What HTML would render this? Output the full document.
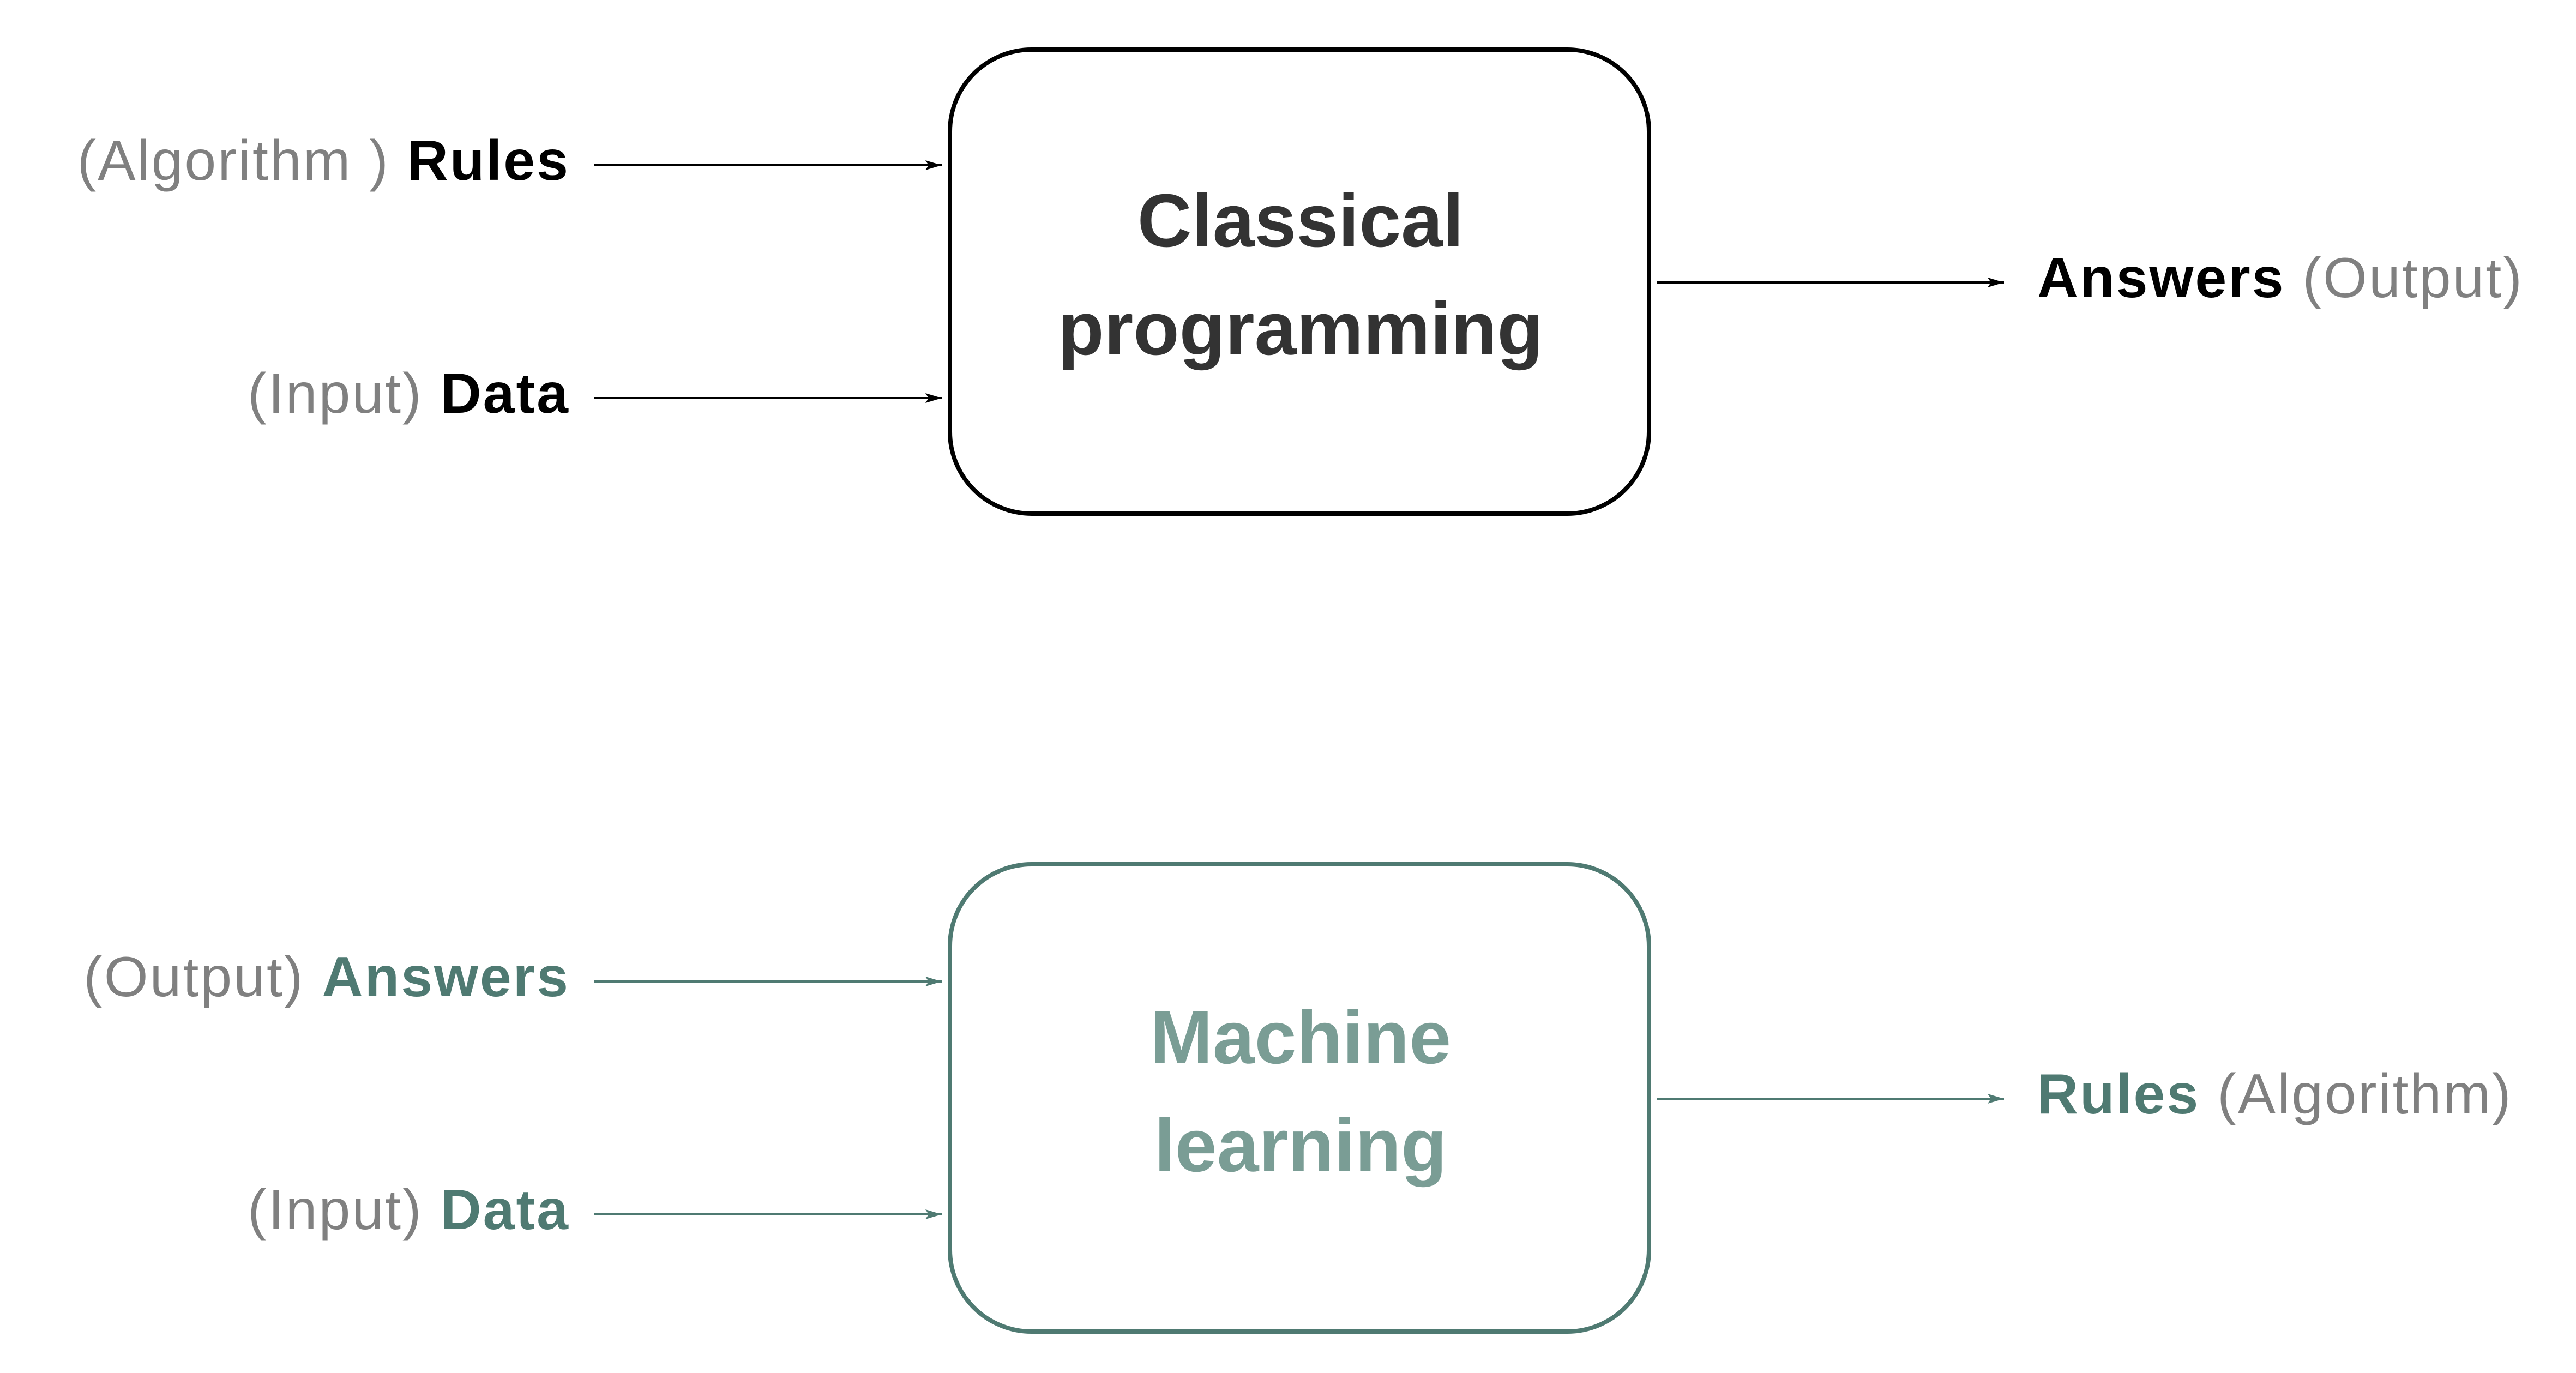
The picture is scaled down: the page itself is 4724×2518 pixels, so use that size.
<!DOCTYPE html>
<html><head><meta charset="utf-8"><style>
html,body{margin:0;padding:0;background:#fff}
svg{display:block}
text{font-family:"Liberation Sans","DejaVu Sans",sans-serif}
</style></head><body>
<svg width="4724" height="2518" viewBox="0 0 4724 2518" xmlns="http://www.w3.org/2000/svg">
<defs>
<marker id="ab" markerWidth="30" markerHeight="18" refX="30" refY="9" orient="auto" markerUnits="userSpaceOnUse" viewBox="0 0 30 18"><path d="M0,0 L30,9 L0,18 L6,9 Z" fill="#000"/></marker>
<marker id="at" markerWidth="30" markerHeight="18" refX="30" refY="9" orient="auto" markerUnits="userSpaceOnUse" viewBox="0 0 30 18"><path d="M0,0 L30,9 L0,18 L6,9 Z" fill="#4f7a72"/></marker>
</defs>
<style>
.g{fill:#808080}
.l{font-size:104px;letter-spacing:3px}
.t{font-size:138px;font-weight:bold}
</style>
<!-- top box -->
<rect x="1742" y="91" width="1282" height="851" rx="150" ry="150" fill="none" stroke="#000" stroke-width="8"/>
<text x="2385" y="452" class="t" fill="#333" text-anchor="middle">Classical</text>
<text x="2385" y="650" class="t" fill="#333" text-anchor="middle">programming</text>
<g stroke="#000" stroke-width="4">
<line x1="1090" y1="303" x2="1727" y2="303" marker-end="url(#ab)"/>
<line x1="1090" y1="730" x2="1727" y2="730" marker-end="url(#ab)"/>
<line x1="3039" y1="518" x2="3675" y2="518" marker-end="url(#ab)"/>
</g>
<text x="1045" y="330" class="l" text-anchor="end"><tspan class="g">(Algorithm ) </tspan><tspan font-weight="bold" fill="#000">Rules</tspan></text>
<text x="1045" y="757" class="l" text-anchor="end"><tspan class="g">(Input) </tspan><tspan font-weight="bold" fill="#000">Data</tspan></text>
<text x="3736" y="545" class="l"><tspan font-weight="bold" fill="#000">Answers</tspan><tspan class="g"> (Output)</tspan></text>
<!-- bottom box -->
<rect x="1742" y="1585" width="1282" height="857" rx="150" ry="150" fill="none" stroke="#4f7a72" stroke-width="8"/>
<text x="2385" y="1950" class="t" fill="#7a9d95" text-anchor="middle">Machine</text>
<text x="2385" y="2148" class="t" fill="#7a9d95" text-anchor="middle">learning</text>
<g stroke="#4f7a72" stroke-width="4">
<line x1="1090" y1="1800" x2="1727" y2="1800" marker-end="url(#at)"/>
<line x1="1090" y1="2227" x2="1727" y2="2227" marker-end="url(#at)"/>
<line x1="3039" y1="2015" x2="3675" y2="2015" marker-end="url(#at)"/>
</g>
<text x="1045" y="1827" class="l" text-anchor="end"><tspan class="g">(Output) </tspan><tspan font-weight="bold" fill="#4f7a72">Answers</tspan></text>
<text x="1045" y="2254" class="l" text-anchor="end"><tspan class="g">(Input) </tspan><tspan font-weight="bold" fill="#4f7a72">Data</tspan></text>
<text x="3736" y="2042" class="l"><tspan font-weight="bold" fill="#4f7a72">Rules</tspan><tspan class="g"> (Algorithm)</tspan></text>
</svg>
</body></html>
